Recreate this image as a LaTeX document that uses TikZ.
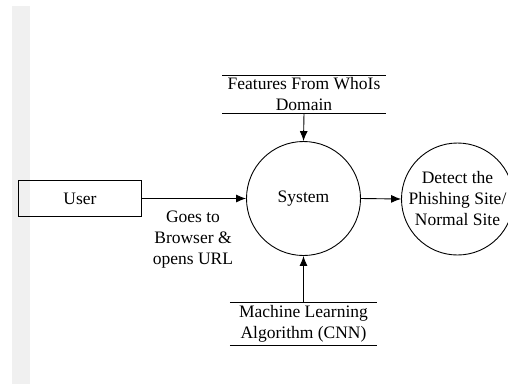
\documentclass[tikz,border=0pt]{standalone}
\usepackage{fontspec}
\setmainfont{Liberation Serif}
\usetikzlibrary{arrows.meta}
\begin{document}
\begin{tikzpicture}[x=1pt,y=-1pt,
  every node/.style={font=\fontsize{17.5}{21}\selectfont, align=center},
  line/.style={draw=black, line width=0.9pt},
  flow/.style={line, -{Latex[length=10pt,width=8pt]}},
  proc/.style={circle, line, minimum size=114pt, inner sep=0pt},
  entity/.style={rectangle, line, minimum width=123pt, minimum height=36pt, inner sep=0pt},
  store/.style={rectangle, minimum height=37pt, inner sep=0pt}]
\useasboundingbox (0,0) rectangle (508,384);
\clip (0,0) rectangle (508,384);
\fill[gray!12] (12,6) rectangle (30,384);
\node[entity] (user) at (80,198.5) {User};
\node[proc] (sys) at (303.5,198.5) {System};
\node[proc, minimum size=112pt] (det) at (457.5,199) {Detect the\\Phishing Site/\\Normal Site};
\node[store, minimum width=163pt] (who) at (304,94.5) {Features From WhoIs\\Domain};
\draw[line] (who.north west) -- (who.north east);
\draw[line] (who.south west) -- (who.south east);
\node[store, minimum width=147pt, minimum height=43pt] (ml) at (303.5,324) {Machine Learning\\Algorithm (CNN)};
\draw[line] (ml.north west) -- (ml.north east);
\draw[line] (ml.south west) -- (ml.south east);
\draw[flow] (user.east) -- (sys.west);
\draw[flow] (sys.east) -- (det.west);
\draw[flow] (who.south) -- (sys.north);
\draw[flow] (ml.north) -- (sys.south);
\node (lbl) at (193,240) {Goes to\\Browser \&\\opens URL};
\end{tikzpicture}
\end{document}
